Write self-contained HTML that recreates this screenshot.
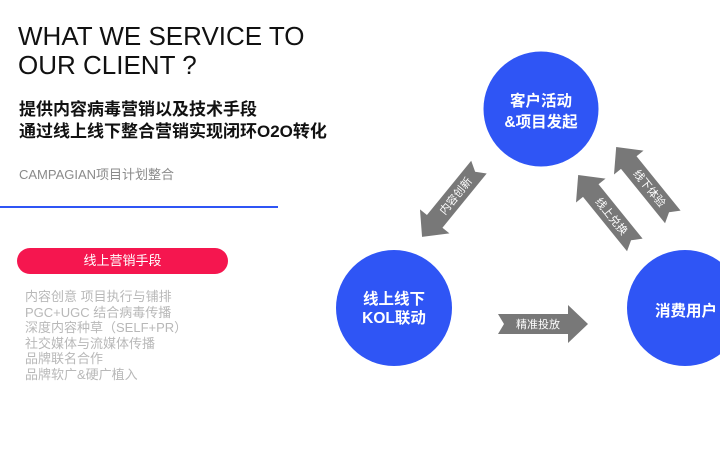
<!DOCTYPE html>
<html><head><meta charset="utf-8">
<style>
html,body{margin:0;padding:0;background:#fff;}
body{width:720px;height:450px;position:relative;overflow:hidden;font-family:"Liberation Sans","Noto Sans CJK SC",sans-serif;}
.t{position:absolute;white-space:nowrap;}
</style></head>
<body>
<div class="t" style="left:18px;top:22px;font-size:26px;line-height:29px;color:#111;">WHAT WE SERVICE TO<br>OUR CLIENT ?</div>
<div class="t" style="left:19px;top:99px;font-size:17px;line-height:22px;font-weight:bold;color:#111;">提供内容病毒营销以及技术手段<br>通过线上线下整合营销实现闭环O2O转化</div>
<div class="t" style="left:19px;top:167px;font-size:13px;line-height:16px;color:#8a8a8a;">CAMPAGIAN项目计划整合</div>
<div style="position:absolute;left:0;top:206px;width:278px;height:2px;background:#2f55f5;"></div>
<div style="position:absolute;left:17px;top:248px;width:211px;height:26px;border-radius:13px;background:#f5164f;color:#fff;font-size:13px;line-height:26px;text-align:center;">线上营销手段</div>
<div class="t" style="left:25px;top:289px;font-size:13px;line-height:15.6px;color:#b8b8b8;">内容创意 项目执行与铺排<br>PGC+UGC 结合病毒传播<br>深度内容种草（SELF+PR）<br>社交媒体与流媒体传播<br>品牌联名合作<br>品牌软广&amp;硬广植入</div>

<svg width="720" height="450" style="position:absolute;left:0;top:0;" xmlns="http://www.w3.org/2000/svg">
  <g fill="#2f55f5">
    <circle cx="541" cy="109" r="57.5"/>
    <circle cx="394" cy="308" r="58"/>
    <circle cx="685" cy="308" r="58"/>
  </g>
  <g fill="#fff" font-family="Liberation Sans, Noto Sans CJK SC, sans-serif" font-weight="bold" text-anchor="middle" font-size="15.5">
    <text x="541" y="106">客户活动</text>
    <text x="541" y="127">&amp;项目发起</text>
    <text x="394" y="304">线上线下</text>
    <text x="394" y="323">KOL联动</text>
    <text x="686" y="316">消费用户</text>
  </g>
  <!-- horizontal arrow -->
  <g transform="translate(543,324)">
    <path d="M -45,-10 L 25,-10 L 25,-19 L 45,0 L 25,19 L 25,10 L -45,10 L -39,0 Z" fill="#787878"/>
    <text x="-5" y="4" fill="#fff" font-size="11" text-anchor="middle" font-family="Liberation Sans, Noto Sans CJK SC, sans-serif">精准投放</text>
  </g>
  <g transform="translate(450.5,202) rotate(-50.8)">
    <path d="M 45,-10 L -25,-10 L -25,-19 L -45,0 L -25,19 L -25,10 L 45,10 L 39,0 Z" fill="#787878"/>
    <text x="8" y="4" fill="#fff" font-size="11" text-anchor="middle" font-family="Liberation Sans, Noto Sans CJK SC, sans-serif">内容创新</text>
  </g>
  <g transform="translate(606.5,210) rotate(51)">
    <path d="M 45,-10 L -25,-10 L -25,-19 L -45,0 L -25,19 L -25,10 L 45,10 L 39,0 Z" fill="#787878"/>
    <text x="8" y="4" fill="#fff" font-size="11" text-anchor="middle" font-family="Liberation Sans, Noto Sans CJK SC, sans-serif">线上兑换</text>
  </g>
  <g transform="translate(644.5,182) rotate(51)">
    <path d="M 45,-10 L -25,-10 L -25,-19 L -45,0 L -25,19 L -25,10 L 45,10 L 39,0 Z" fill="#787878"/>
    <text x="8" y="4" fill="#fff" font-size="11" text-anchor="middle" font-family="Liberation Sans, Noto Sans CJK SC, sans-serif">线下体验</text>
  </g>
</svg>
</body></html>
